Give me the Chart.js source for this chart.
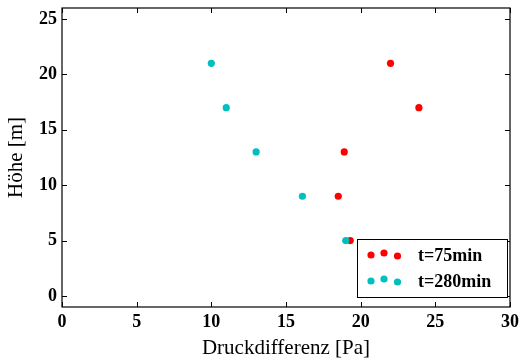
<!DOCTYPE html>
<html>
<head>
<meta charset="utf-8">
<script src="https://cdn.jsdelivr.net/npm/chart.js@4/dist/chart.umd.min.js"></script>
<style>
    html, body { margin: 0; padding: 0; background: #fff; }
    #wrap { width: 524px; height: 363px; position: relative; }
</style>
</head>
<body>
<div id="wrap"><canvas id="chart"></canvas></div>
<script>
const heights = [21, 17, 13, 9, 5];
const druck75 = [22.0, 23.9, 18.9, 18.5, 19.3];
const druck280 = [10.0, 11.0, 13.0, 16.1, 19.0];
const xTicks = [0, 5, 10, 15, 20, 25, 30];
const yTicks = [0, 5, 10, 15, 20, 25];
const seriesLabels = ["t=75min", "t=280min"];

const COLORS = {
    red: "#ff0000",
    cyan: "#00bfbf",
    axis: "#000000",
};
const SERIF = "'Liberation Serif', 'DejaVu Serif', serif";

const toPoints = (xs) => xs.map((x, i) => ({ x, y: heights[i] }));

// matplotlib-like frame with inward ticks on all four sides
const framePlugin = {
    id: "frame",
    afterDraw(chart) {
        const { ctx, chartArea: a, scales } = chart;
        const len = 5;
        ctx.save();
        ctx.strokeStyle = COLORS.axis;
        ctx.lineWidth = 1;
        ctx.beginPath();
        scales.x.ticks.forEach((t) => {
            const px = Math.round(scales.x.getPixelForValue(t.value)) + 0.5;
            ctx.moveTo(px, a.bottom);
            ctx.lineTo(px, a.bottom - len);
            ctx.moveTo(px, a.top);
            ctx.lineTo(px, a.top + len);
        });
        scales.y.ticks.forEach((t) => {
            const py = Math.round(scales.y.getPixelForValue(t.value)) + 0.5;
            ctx.moveTo(a.left, py);
            ctx.lineTo(a.left + len, py);
            ctx.moveTo(a.right, py);
            ctx.lineTo(a.right - len, py);
        });
        ctx.stroke();
        ctx.lineWidth = 1.2;
        ctx.strokeRect(a.left, a.top, a.right - a.left, a.bottom - a.top);
        ctx.restore();
    },
};

// legend with three scatter markers per entry, lower right corner
const legendPlugin = {
    id: "scatterLegend",
    afterDraw(chart) {
        const { ctx, chartArea: a } = chart;
        const box = { left: a.right - 153, top: a.bottom - 68, width: 150, height: 58 };
        const dotX = [14, 27, 40.5];
        const dotDy = [0, -2, 1];
        const colors = [COLORS.red, COLORS.cyan];
        ctx.save();
        ctx.fillStyle = "#fff";
        ctx.fillRect(box.left, box.top, box.width, box.height);
        ctx.strokeStyle = "#000";
        ctx.lineWidth = 1;
        ctx.strokeRect(box.left + 0.5, box.top + 0.5, box.width, box.height);
        seriesLabels.forEach((label, i) => {
            const cy = box.top + 16 + i * 26;
            ctx.fillStyle = colors[i];
            dotX.forEach((dx, j) => {
                ctx.beginPath();
                ctx.arc(box.left + dx, cy + dotDy[j], 3.6, 0, Math.PI * 2);
                ctx.fill();
            });
            ctx.fillStyle = "#000";
            ctx.font = "bold 18px " + SERIF;
            ctx.textBaseline = "middle";
            ctx.textAlign = "left";
            ctx.fillText(label, box.left + 61, cy + 1);
        });
        ctx.restore();
    },
};

new Chart(document.getElementById("chart"), {
    type: "scatter",
    data: {
        datasets: [
            {
                label: seriesLabels[0],
                data: toPoints(druck75),
                backgroundColor: COLORS.red,
                borderWidth: 0,
                pointRadius: 3.6,
                order: 1,
            },
            {
                label: seriesLabels[1],
                data: toPoints(druck280),
                backgroundColor: COLORS.cyan,
                borderWidth: 0,
                pointRadius: 3.6,
                order: 0,
            },
        ],
    },
    options: {
        responsive: true,
        maintainAspectRatio: false,
        animation: false,
        events: [],
        layout: {
            padding: { left: 0, top: 8, right: 14, bottom: 0 },
        },
        plugins: {
            legend: { display: false },
            tooltip: { enabled: false },
        },
        scales: {
            x: {
                type: "linear",
                min: 0,
                max: 30,
                afterBuildTicks: (scale) => {
                    scale.ticks = xTicks.map((value) => ({ value }));
                },
                afterFit: (scale) => {
                    scale.height = 56;
                    scale.paddingLeft = 0;
                    scale.paddingRight = 0;
                },
                grid: { display: false, drawTicks: false },
                border: { display: false },
                ticks: {
                    autoSkip: false,
                    maxRotation: 0,
                    padding: 5,
                    color: "#000",
                    font: { family: SERIF, size: 18, weight: "bold" },
                },
                title: {
                    display: true,
                    text: "Druckdifferenz [Pa]",
                    color: "#000",
                    font: { family: SERIF, size: 21 },
                    padding: { top: 0, bottom: 2 },
                },
            },
            y: {
                type: "linear",
                min: -1,
                max: 26,
                afterBuildTicks: (scale) => {
                    scale.ticks = yTicks.map((value) => ({ value }));
                },
                afterFit: (scale) => {
                    scale.width = 62;
                    scale.paddingTop = 0;
                    scale.paddingBottom = 0;
                },
                grid: { display: false, drawTicks: false },
                border: { display: false },
                ticks: {
                    autoSkip: false,
                    padding: 5,
                    color: "#000",
                    font: { family: SERIF, size: 18, weight: "bold" },
                },
                title: {
                    display: true,
                    text: "Höhe [m]",
                    color: "#000",
                    font: { family: SERIF, size: 21 },
                    padding: { top: 4, bottom: 0 },
                },
            },
        },
    },
    plugins: [framePlugin, legendPlugin],
});
</script>
</body>
</html>
